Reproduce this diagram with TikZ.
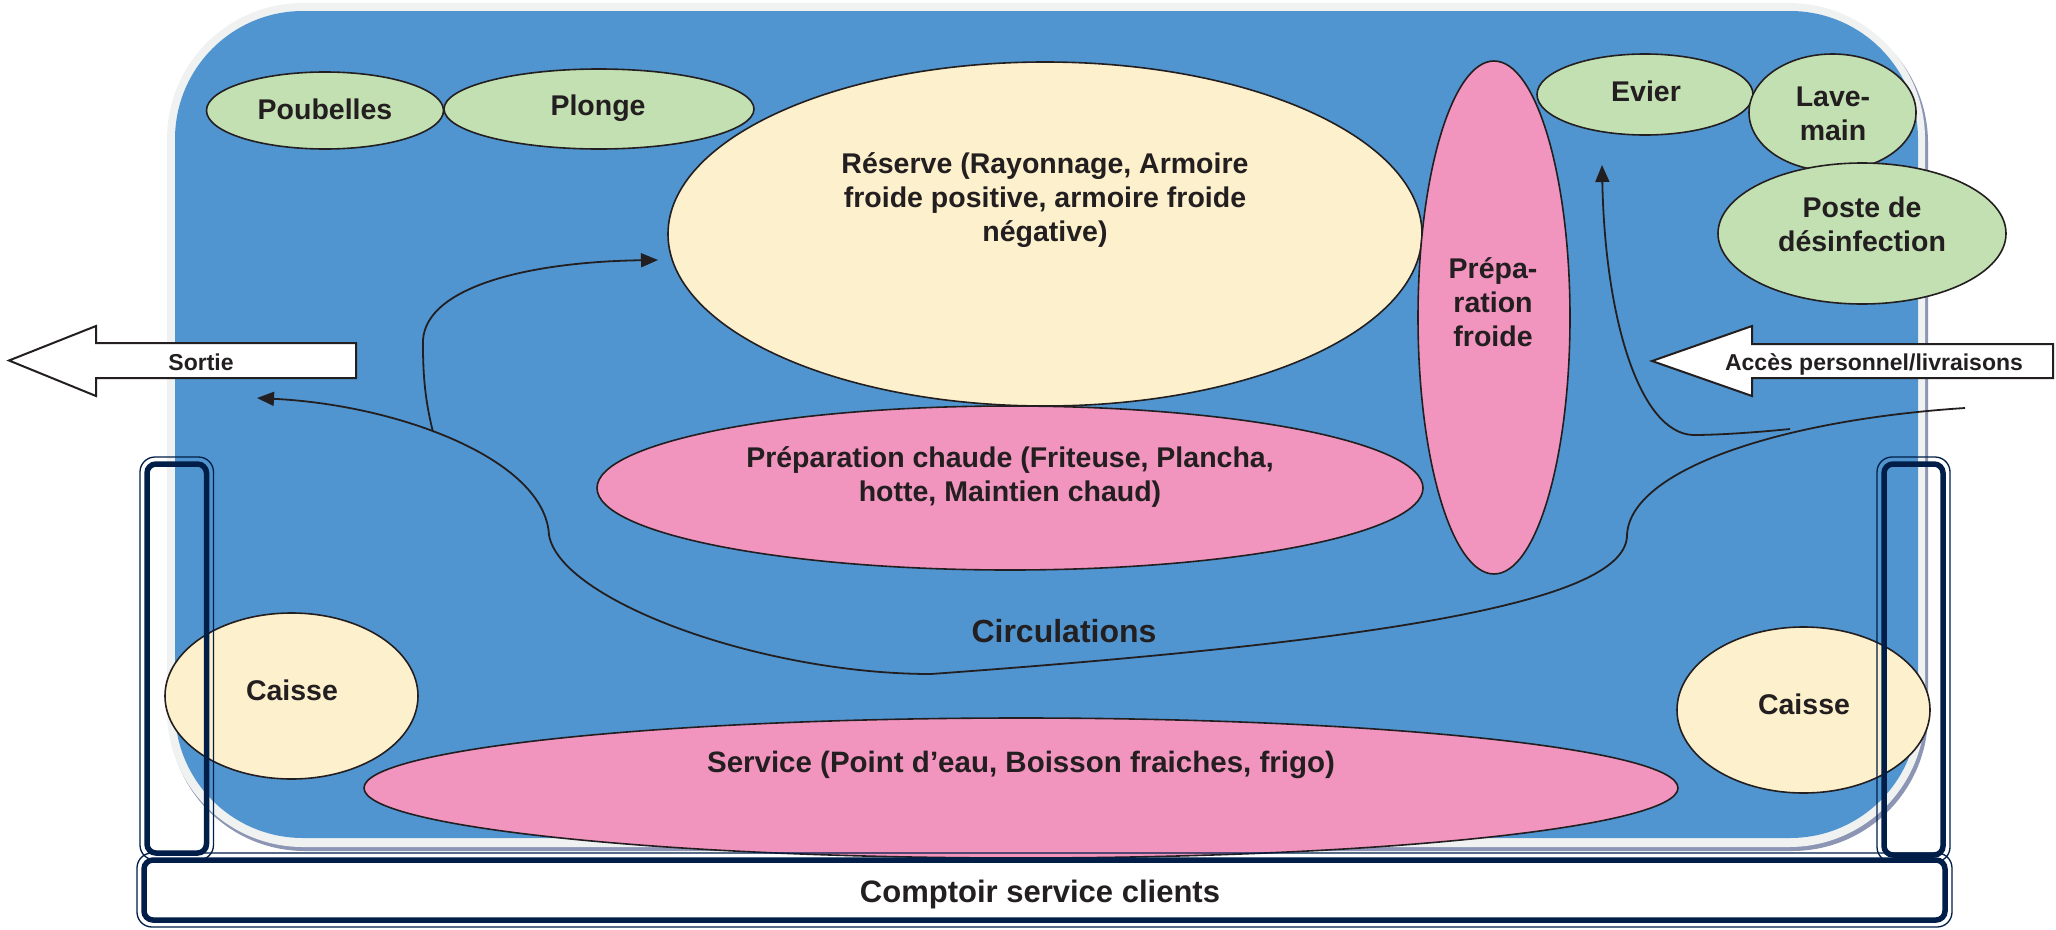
\documentclass[tikz,border=0pt]{standalone}
\usepackage{fontspec}
\setmainfont{Liberation Sans}
\usetikzlibrary{shapes.geometric,arrows.meta}
\definecolor{bluebg}{RGB}{80,149,208}
\definecolor{grayb}{RGB}{240,242,242}
\definecolor{shadowc}{RGB}{140,150,180}
\definecolor{greenC}{RGB}{195,224,178}
\definecolor{creamC}{RGB}{253,240,204}
\definecolor{pinkC}{RGB}{241,148,190}
\definecolor{navy}{RGB}{0,30,72}
\definecolor{lineC}{RGB}{35,31,32}
\newcommand{\ml}[1]{\begin{tabular}[t]{@{}c@{}}#1\end{tabular}}
\begin{document}
\begin{tikzpicture}[x=1pt,y=-1pt,
  zone/.style={ellipse, draw=lineC, line width=1.6pt, inner sep=0pt},
  lbl/.style={font=\fontsize{28.5}{34}\selectfont\bfseries, text=lineC, anchor=base, inner sep=0pt},
  small/.style={font=\fontsize{23}{28}\selectfont\bfseries, text=lineC, anchor=base, inner sep=0pt},
  flow/.style={draw=lineC, line width=1.8pt},
  tip/.style={-{Triangle[length=17pt,width=14pt]}},
  bigarrow/.style={draw=lineC, fill=white, line width=2pt, line join=miter},
  frameA/.style={draw=navy, line width=5.5pt, rounded corners=9pt},
  frameB/.style={draw=navy, line width=1.3pt, rounded corners=15pt}]
\useasboundingbox (0,0) rectangle (2056,929);
\fill[white] (0,0) rectangle (2056,929);
% room
\fill[shadowc, rounded corners=136pt] (169,7) rectangle (1928,851);
\fill[grayb, rounded corners=136pt] (167,3) rectangle (1925,847);
\fill[bluebg, rounded corners=128pt] (175,11) rectangle (1918,838);
% zones
\node[zone, fill=greenC, minimum width=237pt, minimum height=77pt] (poub) at (325,110.5) {};
\node[zone, fill=greenC, minimum width=310pt, minimum height=80pt] (plonge) at (599,109) {};
\node[zone, fill=creamC, minimum width=754pt, minimum height=344pt] (reserve) at (1045,234) {};
\node[zone, fill=pinkC, minimum width=152pt, minimum height=513pt] (froide) at (1494,317.5) {};
\node[zone, fill=greenC, minimum width=216pt, minimum height=81pt] (evier) at (1645,94.5) {};
\node[zone, fill=greenC, minimum width=167pt, minimum height=117pt] (lave) at (1832.5,112.5) {};
\node[zone, fill=greenC, minimum width=288pt, minimum height=141pt] (poste) at (1862,233.5) {};
\node[zone, fill=pinkC, minimum width=826pt, minimum height=164pt] (chaude) at (1010,488) {};
\node[zone, fill=pinkC, minimum width=1314pt, minimum height=140pt] (service) at (1021,788) {};
\node[zone, fill=creamC, minimum width=253pt, minimum height=166pt] (caisseL) at (291.5,696) {};
\node[zone, fill=creamC, minimum width=253pt, minimum height=166pt] (caisseR) at (1803.5,710) {};
% circulation points
\coordinate (entree) at (1965,408);
\coordinate (bendR) at (1627,535);
\coordinate (bas) at (931,674);
\coordinate (bendL) at (549,535);
\coordinate (sortieTip) at (257,398);
\coordinate (fork) at (433,432);
\coordinate (up) at (423,345);
\coordinate (reserveTip) at (658,260);
\coordinate (evFork) at (1790,429);
\coordinate (evBend) at (1693,435);
\coordinate (evierTip) at (1602,165);
% circulations
\draw[flow, tip] (entree) .. controls (1780,420) and (1630,470) .. (bendR)
  .. controls (1627,600) and (1400,640) .. (bas)
  .. controls (760,674) and (560,600) .. (bendL)
  .. controls (545,460) and (400,405) .. (sortieTip);
\draw[flow, tip] (fork) .. controls (425,400) and (423,375) .. (up)
  .. controls (420,290) and (520,262) .. (reserveTip);
\draw[flow, tip] (evFork) .. controls (1750,433) and (1715,435) .. (evBend)
  .. controls (1640,433) and (1605,320) .. (evierTip);
% big arrows
\draw[bigarrow] (9,360.5) -- (96,326) -- (96,343) -- (356,343) -- (356,378) -- (96,378) -- (96,396) -- cycle;
\draw[bigarrow] (1652,361) -- (1752,326) -- (1752,344) -- (2053,344) -- (2053,378) -- (1752,378) -- (1752,396) -- cycle;
% counter frames
\draw[frameA] (147,464) rectangle (206.5,853);
\draw[frameB] (140,457) rectangle (213.5,860);
\draw[frameA] (1884,464) rectangle (1943,855);
\draw[frameB] (1877,457) rectangle (1950,862);
\draw[frameA] (144,860) rectangle (1945,920);
\draw[frameB] (137,853) rectangle (1952,927);
% labels
\node[lbl] (tPoub) at (325,119) {Poubelles};
\node[lbl] (tPlonge) at (598,115.5) {Plonge};
\node[lbl] (tReserve) at (1045,173) {\ml{Réserve (Rayonnage, Armoire\\froide positive, armoire froide\\négative)}};
\node[lbl] (tFroide) at (1493,278) {\ml{Prépa-\\ration\\froide}};
\node[lbl] (tEvier) at (1646,101) {Evier};
\node[lbl] (tLave) at (1833,106) {\ml{Lave-\\main}};
\node[lbl] (tPoste) at (1862,217) {\ml{Poste de\\désinfection}};
\node[lbl] (tChaude) at (1010,467) {\ml{Préparation chaude (Friteuse, Plancha,\\hotte, Maintien chaud)}};
\node[lbl, font=\fontsize{29.5}{34}\selectfont\bfseries] (tService) at (1021,772) {Service (Point d’eau, Boisson fraiches, frigo)};
\node[lbl] (tCaisseL) at (292,700) {Caisse};
\node[lbl] (tCaisseR) at (1804,714) {Caisse};
\node[lbl, font=\fontsize{32}{36}\selectfont\bfseries] (tCirc) at (1064,642) {Circulations};
\node[lbl, font=\fontsize{31}{36}\selectfont\bfseries] (tComptoir) at (1040,902) {Comptoir service clients};
\node[small] (tSortie) at (201,370) {Sortie};
\node[small] (tAcces) at (1874,370) {Accès personnel/livraisons};
\end{tikzpicture}
\end{document}
